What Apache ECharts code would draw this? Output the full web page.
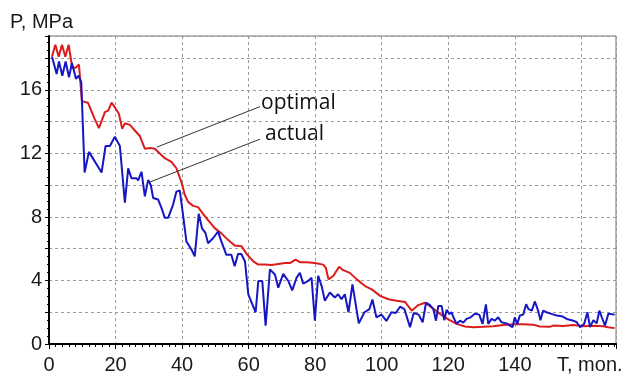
<!DOCTYPE html>
<html>
<head>
<meta charset="utf-8">
<script src="https://cdn.jsdelivr.net/npm/echarts@6/dist/echarts.min.js"></script>
<style>
  html, body { margin: 0; padding: 0; background: #fff; }
  #chart { width: 630px; height: 375px; }
</style>
</head>
<body>
<div id="chart"></div>
<script>
// Reservoir pressure P (MPa) versus time T (months)
const optimalT = [0.9,1.9,2.9,3.9,4.9,5.9,7.0,8.0,9.0,9.9,11.7,13.7,15.0,16.8,17.8,18.8,19.8,21.0,22.0,22.8,24.3,25.8,27.3,28.8,30.3,31.8,33.3,34.8,36.8,38.3,39.8,40.8,41.8,43.3,44.8,46.3,47.8,49.8,51.8,53.8,55.8,57.9,59.4,61.4,62.9,64.9,66.9,68.9,70.9,72.4,74.1,75.4,77.4,79.9,82.4,83.2,84.0,85.4,87.2,88.4,90.4,92.5,95.0,97.0,99.5,102,104.5,107,109,111,113,115,117.5,120,122.5,125,127.5,130.5,133.5,136.5,139.5,142.5,145.5,147.5,150.5,151.5,154.5,157.6,160.6,163.6,166.6,168,170];
const optimalP = [18.1,18.85,18.1,18.85,18.1,18.85,17.4,17.4,17.6,15.3,15.2,14.2,13.6,14.6,14.7,15.2,14.9,14.5,13.55,13.9,13.8,13.45,13.1,12.3,12.35,12.3,12.0,11.7,11.47,11.07,10.2,9.4,8.95,8.7,8.62,8.2,7.8,7.3,6.97,6.56,6.2,6.15,5.67,5.2,5.0,5.0,4.97,5.04,5.1,5.1,5.31,5.15,5.15,5.1,5.0,4.8,4.07,4.28,4.86,4.65,4.48,4.07,3.65,3.44,3.03,2.82,2.72,2.65,2.1,2.45,2.6,2.3,1.9,1.55,1.27,1.1,1.06,1.08,1.12,1.2,1.25,1.25,1.22,1.1,1.08,1.16,1.14,1.2,1.12,1.15,1.12,1.06,1.0];

const actualT = [0.9,2.3,3.0,4.0,5.0,6.0,6.9,8.1,8.9,9.7,9.9,10.7,12.0,15.8,17.0,18.3,19.8,21.3,22.8,23.8,24.8,26.3,26.8,27.8,28.8,29.8,30.6,31.3,32.8,33.8,34.8,35.8,37.3,38.3,39.3,40.3,41.3,42.8,43.8,45.0,46.0,47.0,47.8,49.3,50.8,51.8,53.3,54.8,55.8,56.8,57.8,58.9,59.9,60.9,62.1,62.9,64.1,65.1,66.4,67.9,68.9,70.4,71.9,73.1,74.4,75.4,76.4,77.9,78.9,79.9,80.9,82.0,82.9,84.4,85.9,86.9,87.9,88.9,90.0,91.2,93.1,94.8,96.3,97.2,98.4,99.9,101.4,102.9,104.2,105.5,106.8,108.5,109.6,111.1,112.3,113.3,114.5,115.5,116.3,117.0,118.0,118.8,119.5,120.3,121.0,121.5,122.5,123.5,124.5,125.5,126.7,128.0,129.3,130.3,131.3,132.0,133.0,134.0,135.0,136.0,137.5,138.5,139.3,140.0,140.7,141.5,142.5,143.4,144.1,145.1,146.0,147.0,147.7,148.5,149.5,151.0,152.6,154.1,155.6,157.6,158.6,159.6,160.8,161.8,162.6,163.6,164.6,165.4,166.1,167.1,168.1,170.0];
const actualP = [18.1,17.0,17.8,16.9,17.8,16.8,17.7,16.7,16.9,16.5,15.3,10.8,12.1,10.8,12.47,12.47,13.06,12.47,8.9,11.06,10.44,10.44,10.3,10.85,9.3,10.34,10.0,9.2,9.1,8.57,7.95,7.95,8.78,9.6,9.67,8.1,6.46,5.95,5.52,8.2,7.28,7.0,6.35,6.66,7.08,6.46,5.62,5.62,4.9,5.67,5.67,5.2,3.13,2.6,2.0,3.97,3.97,1.16,4.7,4.38,3.55,4.42,3.97,3.38,4.17,4.48,3.8,3.97,4.17,1.47,4.3,3.6,2.72,3.24,2.93,3.13,2.82,3.13,2.0,3.75,1.3,2.0,2.2,2.8,1.68,1.85,1.45,2.0,1.95,2.35,2.2,1.06,1.95,1.85,1.37,2.6,2.45,2.2,1.47,2.4,2.4,1.5,2.16,1.9,2.0,1.7,1.27,1.47,1.35,1.58,1.68,1.9,1.85,1.26,2.5,1.26,1.58,1.47,1.68,1.37,1.3,1.16,1.06,1.68,1.25,1.79,1.85,2.5,2.2,2.1,2.68,2.1,1.5,2.1,2.0,1.9,1.79,1.75,1.58,1.47,1.37,1.06,1.25,2.0,1.06,1.5,1.3,2.1,1.7,1.16,1.9,1.85];

// Axis settings and labels
const xTickValues = [0, 20, 40, 60, 80, 100, 120, 140];
const yTickValues = [0, 4, 8, 12, 16];
const xMax = 170.4;
const yMax = 19.4;

// Leader lines from the curve names to the curves: [T, P] ends
const optimalLeader = [[32.4, 12.4], [63.4, 14.95]];
const actualLeader = [[30.3, 10.2], [63.4, 12.9]];

function pairs(xs, ys) { return xs.map((x, i) => [x, ys[i]]); }

const chart = echarts.init(document.getElementById('chart'), null, { renderer: 'canvas' });

const labelFont = { fontFamily: '"Liberation Sans", Arial, sans-serif', fontSize: 20, color: '#1a1a1a' };

chart.setOption({
  backgroundColor: '#ffffff',
  animation: false,
  grid: {
    left: 49, right: 14, top: 36, bottom: 28,
    show: true, borderColor: '#777', borderWidth: 1, backgroundColor: 'transparent'
  },
  xAxis: {
    type: 'value', min: 0, max: xMax, interval: 20,
    axisLine: { onZero: false, lineStyle: { color: '#000', width: 2 } },
    axisTick: { show: true, length: 5, lineStyle: { color: '#000', width: 1 } },
    minorTick: { show: true, splitNumber: 10, length: 3, lineStyle: { color: '#000' } },
    splitLine: { show: true, lineStyle: { color: '#9a9a9a', type: [3, 3], width: 1 } },
    axisLabel: Object.assign({
      margin: 11,
      showMaxLabel: false,
      formatter: v => (xTickValues.indexOf(v) >= 0 ? String(v) : '')
    }, labelFont)
  },
  yAxis: {
    type: 'value', min: 0, max: yMax, interval: 2,
    axisLine: { onZero: false, lineStyle: { color: '#000', width: 2 } },
    axisTick: { show: true, length: 4, lineStyle: { color: '#000', width: 1 } },
    minorTick: { show: true, splitNumber: 4, length: 2, lineStyle: { color: '#000' } },
    splitLine: { show: true, lineStyle: { color: '#9a9a9a', type: [3, 3], width: 1 } },
    axisLabel: Object.assign({
      margin: 7,
      showMaxLabel: false,
      formatter: v => (yTickValues.indexOf(v) >= 0 ? String(v) : '')
    }, labelFont)
  },
  series: [
    {
      name: 'optimal', type: 'line', data: pairs(optimalT, optimalP),
      showSymbol: false, symbol: 'none',
      lineStyle: { color: '#dc1c1c', width: 2 }, z: 3,
      markLine: {
        silent: true, symbol: 'none', label: { show: false },
        lineStyle: { color: '#333', width: 1, type: 'solid' },
        data: [[{ coord: optimalLeader[0] }, { coord: optimalLeader[1] }],
               [{ coord: actualLeader[0] }, { coord: actualLeader[1] }]]
      }
    },
    {
      name: 'actual', type: 'line', data: pairs(actualT, actualP),
      showSymbol: false, symbol: 'none',
      lineStyle: { color: '#1616c4', width: 2 }, z: 4
    }
  ],
  graphic: [
    { type: 'text', left: 10, top: 12,
      style: { text: 'P, MPa', font: '20px "Liberation Sans", Arial, sans-serif', fill: '#1a1a1a' } },
    { type: 'text', left: 557, top: 355,
      style: { text: 'T, mon.', font: '20px "Liberation Sans", Arial, sans-serif', fill: '#1a1a1a' } },
    { type: 'text', left: 261, top: 93,
      style: { text: 'optimal', font: '21px "Open Sans", Lato, sans-serif', fill: '#111' } },
    { type: 'text', left: 265, top: 124,
      style: { text: 'actual', font: '21px "Open Sans", Lato, sans-serif', fill: '#111' } }
  ]
});
</script>
</body>
</html>
